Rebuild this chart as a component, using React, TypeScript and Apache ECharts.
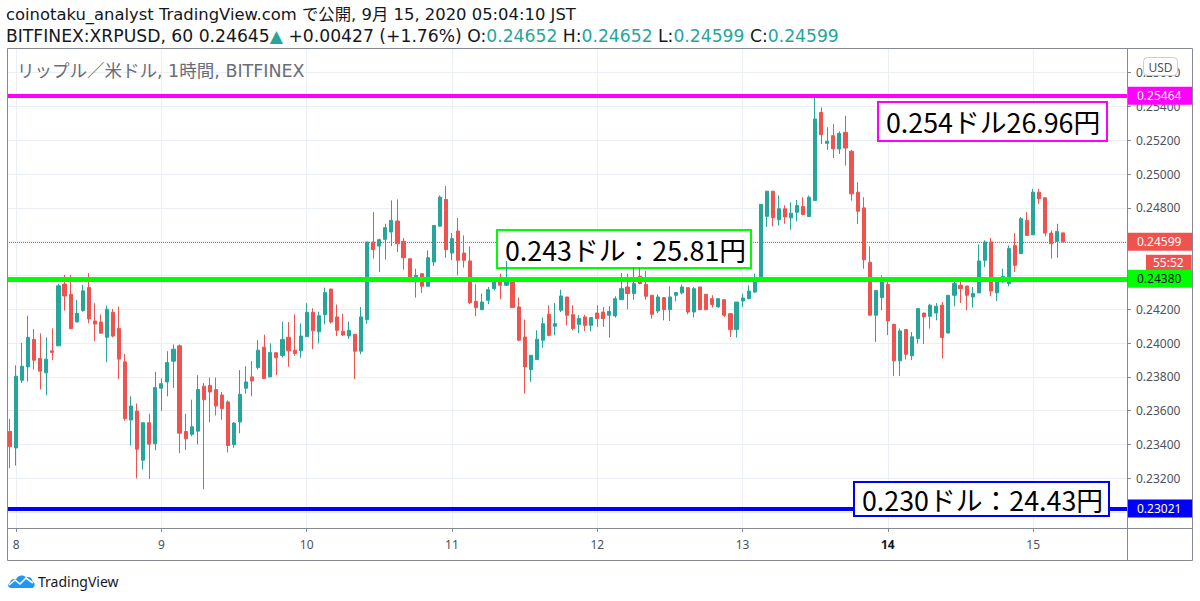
import React, { useEffect, useRef } from 'react';
import * as echarts from 'echarts';

// ---------- data (1h candles, first = Sep 7 23:00) ----------
const opens = [
  0.23477, 0.23380, 0.23780, 0.23859, 0.24022, 0.23909, 0.23824, 0.23954, 0.23984, 0.24349,
  0.24289, 0.24125, 0.24192, 0.24329, 0.24131, 0.24125, 0.24034, 0.24182, 0.24087, 0.23889,
  0.23545, 0.23598, 0.23307, 0.23529, 0.23404, 0.23733, 0.23770, 0.23893, 0.23984, 0.23477,
  0.23460, 0.23479, 0.23745, 0.23750, 0.23725, 0.23693, 0.23652, 0.23400, 0.23533, 0.23733,
  0.23800, 0.23855, 0.23976, 0.23800, 0.23943, 0.23927, 0.24034, 0.23958, 0.23954, 0.24038,
  0.24182, 0.24067, 0.24168, 0.24320, 0.24155, 0.24070, 0.24042, 0.24052, 0.23952, 0.24139,
  0.24598, 0.24574, 0.24614, 0.24657, 0.24722, 0.24602, 0.24499, 0.24362, 0.24411, 0.24336,
  0.24480, 0.24692, 0.24850, 0.24533, 0.24663, 0.24533, 0.24486, 0.24247, 0.24198, 0.24253,
  0.24322, 0.24371, 0.24342, 0.24371, 0.24214, 0.24036, 0.23843, 0.23903, 0.24017, 0.24170,
  0.24100, 0.24194, 0.24273, 0.24168, 0.24111, 0.24155, 0.24105, 0.24178, 0.24184, 0.24165,
  0.24161, 0.24257, 0.24332, 0.24293, 0.24395, 0.24348, 0.24283, 0.24190, 0.24269, 0.24198,
  0.24283, 0.24297, 0.24328, 0.24184, 0.24332, 0.24289, 0.24263, 0.24214, 0.24257, 0.24174,
  0.24080, 0.24249, 0.24263, 0.24302, 0.24381, 0.24750, 0.24899, 0.24730, 0.24795, 0.24741,
  0.24774, 0.24808, 0.24749, 0.24843, 0.25365, 0.25182, 0.25227, 0.25149, 0.25247, 0.25135,
  0.24893, 0.24800, 0.24479, 0.24165, 0.24269, 0.24347, 0.24111, 0.23895, 0.24080, 0.23925,
  0.24027, 0.24178, 0.24159, 0.24178, 0.24224, 0.24060, 0.24283, 0.24342, 0.24338, 0.24273,
  0.24297, 0.24490, 0.24598, 0.24297, 0.24362, 0.24352, 0.24578, 0.24529, 0.24726, 0.24641,
  0.24893, 0.24860, 0.24651, 0.24602, 0.24652,
];
const highs = [
  0.23551, 0.23869, 0.24002, 0.24162, 0.24083, 0.24057, 0.24034, 0.24087, 0.24350, 0.24404,
  0.24404, 0.24255, 0.24345, 0.24414, 0.24236, 0.24170, 0.24222, 0.24202, 0.24216, 0.23935,
  0.23685, 0.23642, 0.23529, 0.23582, 0.23830, 0.23792, 0.23952, 0.23992, 0.23992, 0.23582,
  0.23665, 0.23810, 0.23764, 0.23796, 0.23796, 0.23711, 0.23661, 0.23533, 0.23840, 0.23863,
  0.23893, 0.24018, 0.24050, 0.23998, 0.23943, 0.24125, 0.24125, 0.24170, 0.24117, 0.24236,
  0.24206, 0.24186, 0.24328, 0.24320, 0.24228, 0.24174, 0.24127, 0.24052, 0.24214, 0.24598,
  0.24775, 0.24618, 0.24706, 0.24844, 0.24850, 0.24622, 0.24499, 0.24440, 0.24411, 0.24549,
  0.24696, 0.24874, 0.24929, 0.24651, 0.24740, 0.24637, 0.24572, 0.24348, 0.24293, 0.24332,
  0.24391, 0.24411, 0.24486, 0.24371, 0.24269, 0.24139, 0.23928, 0.24076, 0.24151, 0.24224,
  0.24237, 0.24316, 0.24273, 0.24224, 0.24165, 0.24168, 0.24151, 0.24224, 0.24214, 0.24218,
  0.24277, 0.24415, 0.24411, 0.24450, 0.24450, 0.24427, 0.24283, 0.24289, 0.24273, 0.24336,
  0.24299, 0.24346, 0.24328, 0.24332, 0.24332, 0.24289, 0.24283, 0.24263, 0.24257, 0.24174,
  0.24243, 0.24293, 0.24342, 0.24411, 0.24821, 0.24899, 0.24899, 0.24874, 0.24815, 0.24833,
  0.24847, 0.24863, 0.24873, 0.25454, 0.25395, 0.25277, 0.25296, 0.25253, 0.25345, 0.25143,
  0.24952, 0.24863, 0.24572, 0.24311, 0.24400, 0.24361, 0.24114, 0.24086, 0.24080, 0.24066,
  0.24204, 0.24178, 0.24233, 0.24237, 0.24243, 0.24283, 0.24371, 0.24362, 0.24338, 0.24332,
  0.24584, 0.24608, 0.24622, 0.24367, 0.24440, 0.24578, 0.24651, 0.24746, 0.24775, 0.24913,
  0.24913, 0.24860, 0.24667, 0.24706, 0.24652,
];
const lows = [
  0.23261, 0.23275, 0.23764, 0.23772, 0.23844, 0.23725, 0.23691, 0.23899, 0.23982, 0.24192,
  0.24085, 0.24125, 0.24186, 0.24117, 0.24012, 0.24055, 0.23887, 0.24034, 0.23786, 0.23541,
  0.23394, 0.23200, 0.23252, 0.23196, 0.23366, 0.23600, 0.23685, 0.23735, 0.23349, 0.23368,
  0.23448, 0.23400, 0.23135, 0.23531, 0.23572, 0.23547, 0.23353, 0.23380, 0.23467, 0.23701,
  0.23685, 0.23844, 0.23790, 0.23800, 0.23810, 0.23915, 0.23860, 0.23925, 0.23913, 0.24038,
  0.23964, 0.23998, 0.24111, 0.24115, 0.24042, 0.24042, 0.24025, 0.23786, 0.23934, 0.24115,
  0.24500, 0.24420, 0.24494, 0.24574, 0.24539, 0.24434, 0.24362, 0.24269, 0.24297, 0.24336,
  0.24456, 0.24692, 0.24505, 0.24490, 0.24401, 0.24446, 0.24230, 0.24159, 0.24194, 0.24230,
  0.24312, 0.24259, 0.24338, 0.24210, 0.24011, 0.23702, 0.23771, 0.23899, 0.23973, 0.24040,
  0.24046, 0.24184, 0.24105, 0.24076, 0.24060, 0.24072, 0.24070, 0.24096, 0.24096, 0.24033,
  0.24151, 0.24257, 0.24200, 0.24257, 0.24348, 0.24257, 0.24145, 0.24178, 0.24135, 0.24131,
  0.24247, 0.24289, 0.24170, 0.24151, 0.24194, 0.24194, 0.24210, 0.24210, 0.24155, 0.24036,
  0.24033, 0.24214, 0.24259, 0.24297, 0.24381, 0.24687, 0.24691, 0.24696, 0.24706, 0.24670,
  0.24721, 0.24755, 0.24749, 0.24843, 0.25178, 0.25143, 0.25095, 0.25119, 0.25050, 0.24843,
  0.24705, 0.24440, 0.24165, 0.24007, 0.24194, 0.24047, 0.23805, 0.23805, 0.23903, 0.23899,
  0.23997, 0.23994, 0.24086, 0.24135, 0.23909, 0.24056, 0.24218, 0.24237, 0.24194, 0.24210,
  0.24297, 0.24450, 0.24277, 0.24249, 0.24356, 0.24336, 0.24421, 0.24529, 0.24637, 0.24641,
  0.24824, 0.24631, 0.24500, 0.24505, 0.24599,
];
const closes = [
  0.23388, 0.23804, 0.23863, 0.24034, 0.23899, 0.23834, 0.23905, 0.23945, 0.24339, 0.24279,
  0.24085, 0.24176, 0.24309, 0.24143, 0.24113, 0.24059, 0.24200, 0.24042, 0.23905, 0.23553,
  0.23628, 0.23372, 0.23529, 0.23402, 0.23737, 0.23760, 0.23885, 0.23964, 0.23467, 0.23434,
  0.23505, 0.23725, 0.23665, 0.23711, 0.23628, 0.23612, 0.23394, 0.23527, 0.23697, 0.23770,
  0.23776, 0.23958, 0.23790, 0.23945, 0.23913, 0.24022, 0.23954, 0.23939, 0.24042, 0.24182,
  0.24073, 0.24162, 0.24299, 0.24125, 0.24076, 0.24048, 0.24076, 0.23952, 0.24155, 0.24598,
  0.24553, 0.24612, 0.24683, 0.24726, 0.24588, 0.24505, 0.24362, 0.24401, 0.24336, 0.24505,
  0.24696, 0.24864, 0.24553, 0.24618, 0.24490, 0.24490, 0.24239, 0.24210, 0.24243, 0.24316,
  0.24365, 0.24342, 0.24362, 0.24210, 0.24017, 0.23859, 0.23928, 0.24023, 0.24115, 0.24046,
  0.24115, 0.24279, 0.24165, 0.24086, 0.24145, 0.24105, 0.24151, 0.24145, 0.24145, 0.24188,
  0.24263, 0.24322, 0.24293, 0.24352, 0.24352, 0.24277, 0.24170, 0.24273, 0.24198, 0.24273,
  0.24299, 0.24332, 0.24184, 0.24322, 0.24198, 0.24198, 0.24228, 0.24263, 0.24165, 0.24080,
  0.24243, 0.24267, 0.24308, 0.24387, 0.24821, 0.24899, 0.24742, 0.24795, 0.24746, 0.24769,
  0.24814, 0.24761, 0.24863, 0.25326, 0.25233, 0.25194, 0.25149, 0.25241, 0.25154, 0.24883,
  0.24780, 0.24493, 0.24165, 0.24311, 0.24361, 0.24131, 0.23895, 0.24072, 0.23934, 0.24037,
  0.24204, 0.24155, 0.24224, 0.24218, 0.24033, 0.24283, 0.24352, 0.24322, 0.24283, 0.24293,
  0.24486, 0.24598, 0.24308, 0.24367, 0.24395, 0.24559, 0.24460, 0.24736, 0.24637, 0.24893,
  0.24854, 0.24651, 0.24588, 0.24661, 0.24599,
];

const startDay = 7;
const startHour = 23;
const emptyHours = 10;
const dayLabels = ['8', '9', '10', '11', '12', '13', '14', '15'];
const boldDayLabel = '14';

const yMin = 0.22906;
const yMax = 0.25746;
const yStep = 0.002;

const levelValues = [0.25464, 0.2438, 0.23021];
const levelColors = ['#ff00ff', '#00ff00', '#0000ff'];
const levelTextColors = ['#ffffff', '#131722', '#ffffff'];
const levelWidths = [4, 5, 4];
const lastPrice = 0.24599;
const countdown = '55:52';

const headerLine1 = 'coinotaku_analyst TradingView.com で公開, 9月 15, 2020 05:04:10 JST';
const headerSymbol = 'BITFINEX:XRPUSD, 60 0.24645';
const headerChange = ' +0.00427 (+1.76%)';
const ohlcNames = ['O', 'H', 'L', 'C'];
const ohlcValues = ['0.24652', '0.24652', '0.24599', '0.24599'];
const subtitle = 'リップル／米ドル, 1時間, BITFINEX';
const notes = ['0.254ドル26.96円', '0.243ドル：25.81円', '0.230ドル：24.43円'];

// ---------- derived ----------
const categories: string[] = [];
for (let i = 0; i < opens.length + emptyHours; i++) {
  const t = startHour + i;
  const day = startDay + Math.floor(t / 24);
  const hour = t % 24;
  categories.push(`${day} ${String(hour).padStart(2, '0')}:00`);
}
const isDayStart = (name: string) => name.endsWith(' 00:00');
const dayStartIdx = categories.map((c, i) => (isDayStart(c) ? i : -1)).filter((i) => i >= 0);
const candleData = opens.map((o, i) => [o, closes[i], lows[i], highs[i]]);
// axis labels that sit under a price tag on the scale
const taggedPrices = [levelValues[1], levelValues[2], lastPrice];
const isCoveredTick = (v: number) => taggedPrices.some((p) => Math.abs(p - v) < 0.0004);

echarts.graphic.registerShape(
  'tvcloud',
  echarts.graphic.extendPath(
    'M4 15 C1 15 0 11 3 10 C3 7 6 5 9 6.5 C10.5 2.5 16 1 19 4.5 C21.5 3 25.5 4.5 25.5 8.5 C28.5 9 28.5 15 25 15 Z',
    {}
  )
);

const UI_FONT = '"Noto Sans", "Noto Sans CJK JP", sans-serif';
const HEAD_FONT = '"DejaVu Sans", "Noto Sans CJK JP", sans-serif';
const CJK_FONT = '"Noto Sans CJK JP", "Noto Sans", sans-serif';
const UP = '#26a69a';
const DOWN = '#ef5350';
const FRAME = '#858993';
const GRID = '#e9eff4';
const AXIS_TEXT = '#4c525e';

function buildOption() {
  const levelLines = levelValues.map((v, i) => ({
    yAxis: v,
    lineStyle: { color: levelColors[i], width: levelWidths[i], type: 'solid' },
    label: {
      show: true,
      position: 'end',
      distance: 1,
      formatter: v.toFixed(5),
      color: levelTextColors[i],
      backgroundColor: levelColors[i],
      fontSize: 12,
      fontFamily: UI_FONT,
      lineHeight: 14,
      padding: [2, 11, 2, 9],
    },
  }));

  const noteBox = (i: number, x: number, y: number, w: number, lh: number, z: number) => ({
    type: 'text',
    x,
    y,
    z,
    silent: true,
    style: {
      text: notes[i],
      fontSize: 26.8,
      fontFamily: CJK_FONT,
      fill: '#000000',
      backgroundColor: '#ffffff',
      borderColor: levelColors[i],
      borderWidth: 2,
      width: w,
      lineHeight: lh,
      padding: [3, 6, 3, 7],
      align: 'left',
      verticalAlign: 'top',
    },
  });

  const headerRich =
    `{d|${headerSymbol}}{g|▲}{d|${headerChange}}` +
    ohlcNames.map((n, i) => `{d| ${n}:}{g|${ohlcValues[i]}}`).join('');

  return {
    animation: false,
    backgroundColor: '#ffffff',
    grid: { left: 7, right: 73, top: 48, bottom: 73, outerBoundsMode: 'none' },
    xAxis: {
      type: 'category',
      data: categories,
      boundaryGap: true,
      axisLine: { show: false },
      axisTick: {
        show: true,
        alignWithLabel: true,
        interval: (_i: number, v: string) => isDayStart(v),
        length: 4,
        lineStyle: { color: FRAME },
      },
      axisLabel: {
        interval: (_i: number, v: string) => isDayStart(v),
        formatter: (_v: string, idx: number) => {
          const d = dayLabels[dayStartIdx.indexOf(idx)] ?? '';
          return d === boldDayLabel ? `{b|${d}}` : d;
        },
        color: AXIS_TEXT,
        fontSize: 12,
        fontFamily: UI_FONT,
        margin: 10,
        rich: { b: { fontWeight: 'bold', color: '#131722', fontSize: 12, fontFamily: UI_FONT } },
      },
      splitLine: { show: false },
    },
    yAxis: {
      type: 'value',
      position: 'right',
      min: yMin,
      max: yMax,
      splitNumber: 14,
      minInterval: yStep,
      maxInterval: yStep,
      axisLine: { show: false },
      axisTick: { show: true, length: 4, lineStyle: { color: FRAME } },
      axisLabel: {
        formatter: (v: number) => (isCoveredTick(v) ? '' : v.toFixed(5)),
        showMinLabel: false,
        showMaxLabel: false,
        color: AXIS_TEXT,
        fontSize: 12,
        fontFamily: UI_FONT,
        margin: 9,
      },
      splitLine: { show: true, lineStyle: { color: GRID, width: 1 } },
    },
    series: [
      {
        type: 'line',
        data: [],
        silent: true,
        markLine: {
          silent: true,
          z: 1,
          precision: 5,
          symbol: 'none',
          label: { show: false },
          emphasis: { disabled: true },
          lineStyle: { color: GRID, width: 1, type: 'solid' },
          data: dayStartIdx.map((i) => ({ xAxis: categories[i] })),
        },
      },
      {
        type: 'line',
        data: [],
        silent: true,
        markLine: {
          silent: true,
          z: 1,
          precision: 5,
          symbol: 'none',
          emphasis: { disabled: true },
          data: [
            {
              yAxis: lastPrice,
              lineStyle: { color: DOWN, width: 1, type: 'dotted' },
              label: {
                show: true,
                position: 'end',
                distance: 1,
                formatter: lastPrice.toFixed(5),
                color: '#ffffff',
                backgroundColor: DOWN,
                fontSize: 12,
                fontFamily: UI_FONT,
                lineHeight: 14,
                padding: [2, 11, 2, 9],
              },
            },
          ],
        },
      },
      {
        type: 'line',
        data: [],
        silent: true,
        markLine: {
          silent: true,
          z: 1,
          precision: 5,
          symbol: 'none',
          emphasis: { disabled: true },
          data: [
            {
              yAxis: lastPrice,
              lineStyle: { color: 'rgba(255,255,255,0)', width: 1, type: 'solid' },
              label: {
                show: true,
                position: 'end',
                distance: 1,
                formatter: `{t|${countdown}}`,
                padding: [42, 0, 0, 18],
                rich: {
                  t: {
                    color: '#ffffff',
                    backgroundColor: DOWN,
                    fontSize: 12,
                    fontFamily: UI_FONT,
                    lineHeight: 14,
                    padding: [2, 8, 2, 7],
                  },
                },
              },
            },
          ],
        },
      },
      {
        type: 'candlestick',
        z: 2,
        data: candleData,
        barWidth: 3.6,
        itemStyle: {
          color: UP,
          color0: DOWN,
          borderColor: UP,
          borderColor0: DOWN,
          borderWidth: 1,
        },
        emphasis: { disabled: true },
        markLine: {
          silent: true,
          z: 5,
          precision: 5,
          symbol: 'none',
          emphasis: { disabled: true },
          data: levelLines,
        },
      },
    ],
    graphic: [
      // frame
      {
        type: 'rect',
        z: 20,
        silent: true,
        shape: { x: 7.5, y: 48.5, width: 1185, height: 512 },
        style: { fill: 'none', stroke: FRAME, lineWidth: 1 },
      },
      {
        type: 'line',
        z: 20,
        silent: true,
        shape: { x1: 1127.5, y1: 48.5, x2: 1127.5, y2: 560.5 },
        style: { stroke: FRAME, lineWidth: 1 },
      },
      {
        type: 'line',
        z: 20,
        silent: true,
        shape: { x1: 7.5, y1: 528.5, x2: 1192.5, y2: 528.5 },
        style: { stroke: FRAME, lineWidth: 1 },
      },
      // header
      {
        type: 'text',
        x: 6,
        y: 14,
        silent: true,
        style: {
          text: headerLine1,
          fontSize: 16.4,
          fontFamily: HEAD_FONT,
          fill: '#131722',
          align: 'left',
          verticalAlign: 'middle',
        },
      },
      {
        type: 'text',
        x: 6,
        y: 36,
        silent: true,
        style: {
          text: headerRich,
          fontSize: 17.2,
          fontFamily: HEAD_FONT,
          align: 'left',
          verticalAlign: 'middle',
          rich: {
            d: { fontSize: 17.2, fontFamily: HEAD_FONT, fill: '#131722', color: '#131722' },
            g: { fontSize: 17.2, fontFamily: HEAD_FONT, fill: UP, color: UP },
          },
        },
      },
      // subtitle
      {
        type: 'text',
        x: 17,
        y: 71,
        z: 3,
        silent: true,
        style: {
          text: subtitle,
          fontSize: 17.5,
          fontFamily: HEAD_FONT,
          fill: '#6a6d78',
          align: 'left',
          verticalAlign: 'middle',
        },
      },
      // USD badge
      {
        type: 'rect',
        z: 21,
        silent: true,
        shape: { x: 1143.5, y: 57.5, width: 34, height: 18, r: 4 },
        style: { fill: '#ffffff', stroke: '#c9ccd3', lineWidth: 1 },
      },
      {
        type: 'text',
        z: 22,
        x: 1160.5,
        y: 67,
        silent: true,
        style: {
          text: 'USD',
          fontSize: 12,
          fontFamily: UI_FONT,
          fill: AXIS_TEXT,
          align: 'center',
          verticalAlign: 'middle',
        },
      },
      // annotation boxes
      noteBox(0, 879, 103, 214, 31, 6),
      noteBox(1, 498, 231, 239, 30, 1.5),
      noteBox(2, 855, 483, 240, 26, 6),
      // logo
      {
        type: 'tvcloud',
        x: 7,
        y: 573,
        scaleX: 1,
        scaleY: 1,
        silent: true,
        style: { fill: '#2196f3' },
      },
      {
        type: 'polyline',
        silent: true,
        shape: { points: [[9, 585], [15, 580], [20, 584], [26, 578], [33, 583]] },
        style: { stroke: '#ffffff', lineWidth: 1.6, fill: 'none' },
        z: 1,
      },
      {
        type: 'text',
        x: 38,
        y: 581,
        silent: true,
        style: {
          text: 'TradingView',
          fontSize: 14,
          fontFamily: UI_FONT,
          fill: '#131722',
          align: 'left',
          verticalAlign: 'middle',
        },
      },
    ],
  };
}

export default function App() {
  const ref = useRef<HTMLDivElement>(null);
  useEffect(() => {
    if (!ref.current) return;
    const chart = echarts.init(ref.current, null, { renderer: 'svg' });
    chart.setOption(buildOption() as any);
    return () => chart.dispose();
  }, []);
  return (
    <div
      ref={ref}
      style={{ position: 'fixed', left: 0, top: 0, width: 1200, height: 601, background: '#ffffff' }}
    />
  );
}
